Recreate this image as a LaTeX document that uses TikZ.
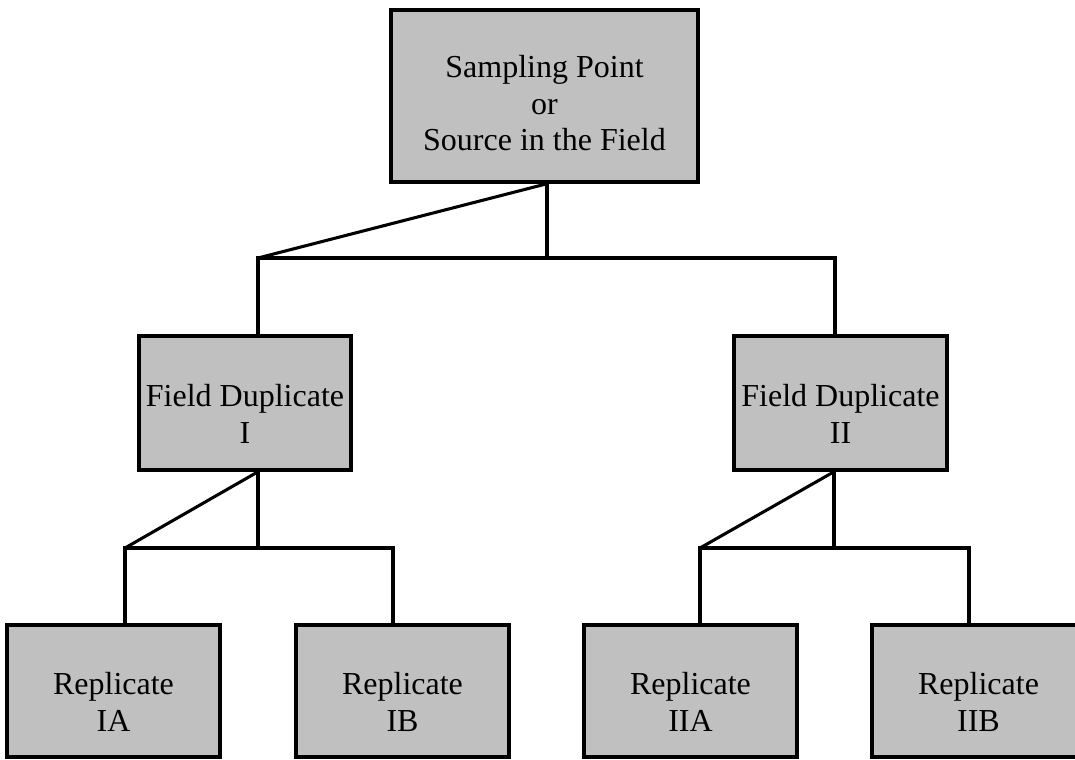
\documentclass[tikz,border=0pt]{standalone}
\usepackage{fontspec}
\setmainfont{Liberation Serif}
\usepackage{tikz}

\definecolor{boxgray}{HTML}{C0C0C0}
\newcommand{\boxlines}[2][11pt]{\raisebox{-#1}[\height][\depth]{\begin{tabular}{@{}c@{}}#2\end{tabular}}}

\begin{document}
\begin{tikzpicture}[
            x = 0.75pt, y = -0.75pt,
            every node/.style={draw, line width = 2.6pt, fill=boxgray, inner sep=0pt,
                font=\fontsize{24}{27.5}\selectfont},
            line/.style={line width = 2.3pt},
            ]
        \useasboundingbox (0, 0) rectangle (1075, 760);

        \node[minimum width=307pt*0.75, minimum height=172pt*0.75] (src) at (544.5, 96) {\boxlines[8pt]{Sampling Point\\or\\Source in the Field}};
        \node[minimum width=212pt*0.75, minimum height=134pt*0.75] (fd1) at (245, 403) {\boxlines{Field Duplicate\\I}};
        \node[minimum width=213pt*0.75, minimum height=134pt*0.75] (fd2) at (840.5, 403) {\boxlines{Field Duplicate\\II}};
        \node[minimum width=213pt*0.75, minimum height=132pt*0.75] (ria) at (113.5, 691) {\boxlines{Replicate\\IA}};
        \node[minimum width=213pt*0.75, minimum height=132pt*0.75] (rib) at (402.5, 691) {\boxlines{Replicate\\IB}};
        \node[minimum width=213pt*0.75, minimum height=132pt*0.75] (riia) at (690.5, 691) {\boxlines{Replicate\\IIA}};
        \node[minimum width=213pt*0.75, minimum height=132pt*0.75] (riib) at (978.5, 691) {\boxlines{Replicate\\IIB}};

        \coordinate (s0) at (547, 258);
        \coordinate (s0l) at (258, 258);
        \coordinate (s0r) at (835, 258);
        \coordinate (s1) at (258, 548);
        \coordinate (s1l) at (125, 548);
        \coordinate (s1r) at (393, 548);
        \coordinate (s2) at (834, 548);
        \coordinate (s2l) at (700, 548);
        \coordinate (s2r) at (969, 548);

        \draw[line] (src.south -| s0) -- (s0);
        \draw[line] (src.south -| s0) -- (s0l);
        \draw[line] (s0l |- fd1.north) -- (s0l) -- (s0r) -- (s0r |- fd2.north);

        \draw[line] (fd1.south -| s1) -- (s1);
        \draw[line] (fd1.south -| s1) -- (s1l);
        \draw[line] (s1l |- ria.north) -- (s1l) -- (s1r) -- (s1r |- rib.north);

        \draw[line] (fd2.south -| s2) -- (s2);
        \draw[line] (fd2.south -| s2) -- (s2l);
        \draw[line] (s2l |- riia.north) -- (s2l) -- (s2r) -- (s2r |- riib.north);
    \end{tikzpicture}
\end{document}
